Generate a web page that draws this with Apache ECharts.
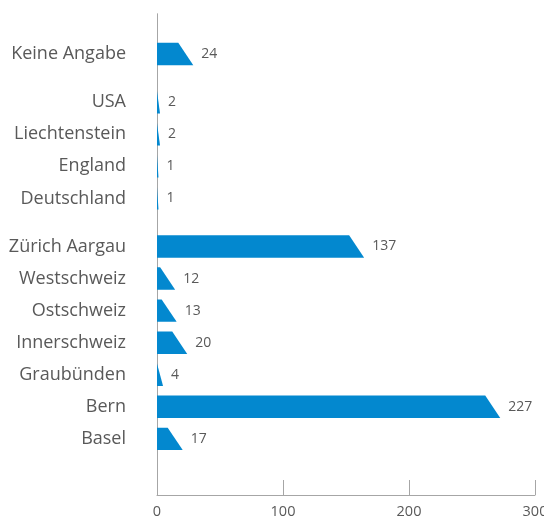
<!DOCTYPE html>
<html>
<head>
<meta charset="utf-8">
<script src="https://cdn.jsdelivr.net/npm/echarts@6/dist/echarts.min.js"></script>
<style>html,body{margin:0;padding:0;background:#fff;}#c{width:544px;height:518px;}</style>
</head>
<body>
<div id="c"></div>
<script>
// Categories listed bottom to top
const categories = ['Basel','Bern','Graubünden','Innerschweiz','Ostschweiz','Westschweiz','Zürich Aargau','Deutschland','England','Liechtenstein','USA','Keine Angabe'];
const values = [17,227,4,20,13,12,137,1,1,2,2,24];
// number of categories in each visual group (bottom to top)
const groupSizes = [7,4,1];
const xTickLabels = [0,100,200,300];

// layout of half-width slots on the category axis
const totalSlots = 30;
const slotIndex = [];
let pos = 3;
groupSizes.forEach((n, g) => {
  for (let k = 0; k < n; k++) { slotIndex.push(pos); pos += 2; }
  pos += 1;
});
const slots = new Array(totalSlots).fill('');
categories.forEach((c, i) => { slots[slotIndex[i]] = c; });

const textColor = '#595959';
const lineColor = '#a6a6a6';
const font = 'Open Sans';

const chart = echarts.init(document.getElementById('c'), null, {renderer: 'canvas'});
chart.setOption({
  animation: false,
  backgroundColor: '#fff',
  grid: {left: 157, right: 9, top: 14, bottom: 23, containLabel: false, outerBoundsMode: 'none'},
  xAxis: [
    {
      type: 'value', min: xTickLabels[0], max: xTickLabels[xTickLabels.length - 1], interval: 100,
      axisLine: {show: true, lineStyle: {color: lineColor, width: 1}},
      axisTick: {show: true, inside: true, length: 15, lineStyle: {color: lineColor}},
      splitLine: {show: false},
      axisLabel: {color: textColor, fontFamily: font, fontSize: 14.5, margin: 9}
    },
    {
      type: 'value', min: 0, max: 250, show: false
    }
  ],
  yAxis: [
    {
      type: 'category', data: slots, position: 'left',
      axisLine: {show: true, lineStyle: {color: lineColor, width: 1}},
      axisTick: {show: false},
      axisLabel: {interval: 0, color: textColor, fontFamily: font, fontSize: 18, margin: 31}
    },
    {
      type: 'category', data: slots, position: 'right',
      axisLine: {show: true, lineStyle: {color: lineColor, width: 1}},
      axisTick: {show: false},
      axisLabel: {show: false}
    }
  ],
  series: [{
    type: 'custom',
    xAxisIndex: 1,
    yAxisIndex: 0,
    data: values.map((v, i) => [v, slotIndex[i]]),
    renderItem: function (params, api) {
      const v = api.value(0), s = api.value(1);
      const p0 = api.coord([0, s]);
      const p1 = api.coord([v, s]);
      const h = api.size([0, 1])[1] * 1.4;
      const top = p0[1] - h / 2, bot = p0[1] + h / 2;
      const slant = 15;
      const xr = p1[0];
      const xt = Math.max(p0[0], xr - slant);
      return {
        type: 'group',
        children: [
          {
            type: 'polygon',
            shape: {points: [[p0[0], top], [xt, top], [xr, bot], [p0[0], bot]]},
            style: {fill: '#0388CF'}
          },
          {
            type: 'text',
            style: {
              text: String(v), x: xr + 8, y: p0[1],
              fill: textColor, font: '14px "Open Sans"',
              textVerticalAlign: 'middle', verticalAlign: 'middle', align: 'left'
            }
          }
        ]
      };
    }
  }]
});
</script>
</body>
</html>
